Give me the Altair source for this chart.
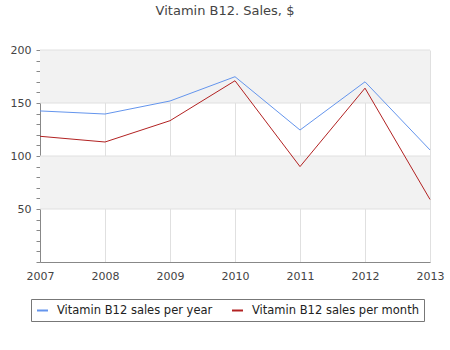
import altair as alt
import pandas as pd

years = [2007, 2008, 2009, 2010, 2011, 2012, 2013]
per_year = [142.5, 139.6, 151.9, 174.8, 124.5, 170.0, 105.7]
per_month = [118.6, 113.2, 133.3, 171.0, 90.0, 164.0, 59.0]
series_names = ["Vitamin B12 sales per year", "Vitamin B12 sales per month"]
series_colors = ["#6495ed", "#b22222"]
band_lo = [150, 50]
band_hi = [200, 100]
grid_vals = [50, 100, 150, 200]

rows = []
for i, y in enumerate(years):
    rows.append({"year": y, "value": per_year[i], "series": series_names[0]})
    rows.append({"year": y, "value": per_month[i], "series": series_names[1]})
df = pd.DataFrame(rows)
bands = pd.DataFrame({"lo": band_lo, "hi": band_hi})
grid = pd.DataFrame({"v": grid_vals})

FONT = "DejaVu Sans"
xscale = alt.Scale(domain=[2007, 2013], nice=False, zero=False)
yscale = alt.Scale(domain=[0, 200], nice=False)

yaxis = alt.Axis(
    values=list(range(0, 201, 10)),
    labelExpr="(datum.value % 50 == 0 && datum.value > 0) ? datum.label : ''",
    grid=False,
    tickColor="#888888",
    tickSize=4,
    domainColor="#888888",
    labelColor="#444444",
    labelFont=FONT,
    labelFontSize=11,
    labelPadding=5,
)

band_layer = alt.Chart(bands).mark_rect(color="#f2f2f2").encode(
    y=alt.Y("lo:Q", scale=yscale, axis=yaxis, title=None),
    y2="hi:Q",
)

grid_layer = alt.Chart(grid).mark_rule(color="#e0e0e0", strokeWidth=1).encode(
    y=alt.Y("v:Q", scale=yscale, axis=yaxis, title=None),
)

lines = alt.Chart(df).mark_line(strokeWidth=1).encode(
    x=alt.X(
        "year:Q",
        scale=xscale,
        title=None,
        axis=alt.Axis(
            values=years,
            format="d",
            grid=True,
            gridColor="#e0e0e0",
            ticks=False,
            domainColor="#888888",
            labelColor="#444444",
            labelFont=FONT,
            labelFontSize=11,
            labelPadding=8,
            labelFlush=False,
        ),
    ),
    y=alt.Y("value:Q", scale=yscale, title=None, axis=yaxis),
    color=alt.Color(
        "series:N",
        scale=alt.Scale(domain=series_names, range=series_colors),
        sort=series_names,
        legend=alt.Legend(
            title=None,
            orient="none",
            legendX=-9,
            legendY=249,
            direction="horizontal",
            symbolType="stroke",
            symbolSize=120,
            symbolStrokeWidth=2,
            strokeColor="#777777",
            padding=5,
            labelFont=FONT,
            labelFontSize=11.5,
            labelLimit=400,
            labelColor="#222222",
            columnPadding=15,
            labelOffset=8,
        ),
    ),
)

chart = (
    alt.layer(band_layer, grid_layer, lines)
    .properties(
        width=390,
        height=212,
        autosize=alt.AutoSizeParams(type="none"),
        padding={"left": 40, "top": 50, "right": 20, "bottom": 88},
        title=alt.TitleParams(
            "Vitamin B12. Sales, $",
            font=FONT,
            fontSize=13,
            fontWeight="normal",
            color="#444444",
            anchor="middle",
            dx=-10,
            offset=26,
        ),
    )
    .configure_view(stroke=None)
)

chart.save("out.html", embed_options={"renderer": "svg", "actions": False})
